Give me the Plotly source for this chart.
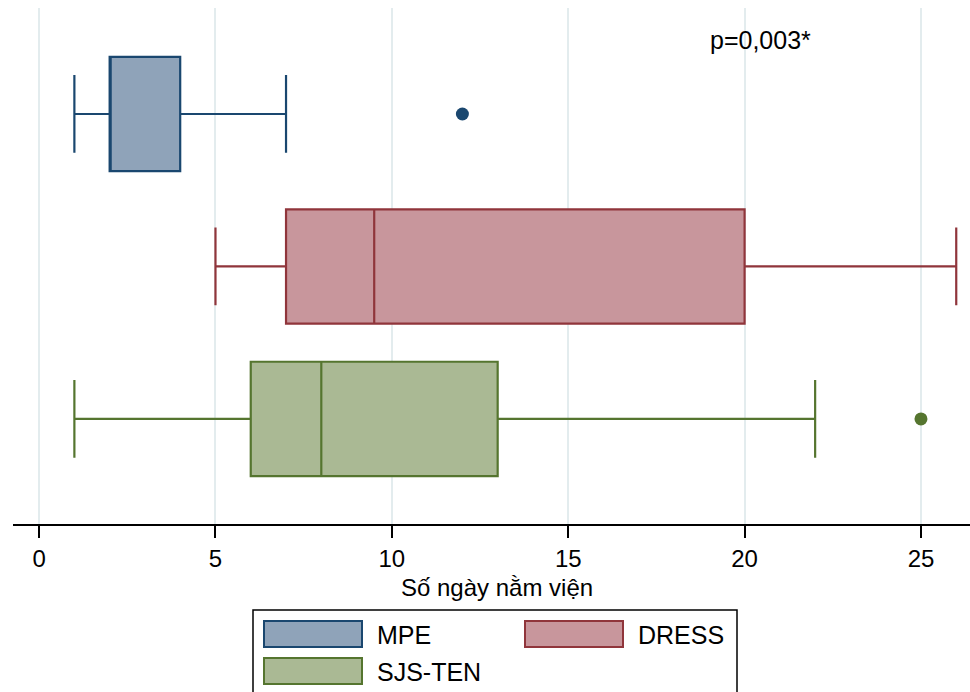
import plotly.graph_objects as go

# ---- data ----
groups = ["MPE", "DRESS", "SJS-TEN"]
positions = [3, 2, 1]
q1 = [2, 7, 6]
median = [2, 9.5, 8]
q3 = [4, 20, 13]
lower = [1, 5, 1]
upper = [7, 26, 22]
outlier_x = [12, 25]
outlier_group = [0, 2]
x_ticks = [0, 5, 10, 15, 20, 25]
p_text = "p=0,003*"
x_title = "Số ngày nằm viện"

line_colors = ["#1a476f", "#90353b", "#55752f"]
fill_colors = ["#8fa3b9", "#c8969c", "#aab994"]

W, H = 970, 692
L, R, T, B = 13, 970, 8, 524  # plot area in pixels
FS = 25
FS_AX = 24

fig = go.Figure()
for i, g in enumerate(groups):
    fig.add_trace(go.Box(
        name=g, orientation="h", y=[positions[i]],
        q1=[q1[i]], median=[median[i]], q3=[q3[i]],
        lowerfence=[lower[i]], upperfence=[upper[i]],
        width=0.75, whiskerwidth=0.68,
        fillcolor=fill_colors[i],
        line=dict(color=line_colors[i], width=2.2),
        boxpoints=False, showlegend=False, hoverinfo="x",
    ))

for xv, gi in zip(outlier_x, outlier_group):
    fig.add_trace(go.Scatter(
        x=[xv], y=[positions[gi]], mode="markers",
        marker=dict(color=line_colors[gi], size=13),
        showlegend=False,
    ))

fig.add_annotation(x=20.45, y=3.485, text=p_text, showarrow=False,
                   font=dict(size=FS, color="black"), xanchor="center", yanchor="middle")

# ---- custom legend / title (paper coords from pixel layout) ----
def px(x):
    return (x - L) / (R - L)

def py(y):
    return (B - y) / (B - T)

fig.add_annotation(xref="paper", yref="paper", x=px(497), y=py(587),
                   text=x_title, showarrow=False, xanchor="center", yanchor="middle",
                   font=dict(size=FS_AX, color="black"))

shapes = [dict(type="rect", xref="paper", yref="paper",
               x0=px(253), x1=px(737), y0=py(700), y1=py(610),
               line=dict(color="black", width=1.5), fillcolor="white", layer="above")]
legend_pos = [(264, 621), (525, 621), (264, 658)]
for i, g in enumerate(groups):
    x0, y0 = legend_pos[i]
    shapes.append(dict(type="rect", xref="paper", yref="paper",
                       x0=px(x0), x1=px(x0 + 98), y0=py(y0 + 26), y1=py(y0),
                       line=dict(color=line_colors[i], width=2),
                       fillcolor=fill_colors[i], layer="above"))
    fig.add_annotation(xref="paper", yref="paper", x=px(x0 + 111), y=py(y0 + 14),
                       text=g, showarrow=False, xanchor="left", yanchor="middle",
                       font=dict(size=FS, color="black"))

fig.update_layout(
    width=W, height=H,
    margin=dict(l=L, r=W - R, t=T, b=H - B),
    paper_bgcolor="white", plot_bgcolor="white",
    font=dict(family="Arial, Liberation Sans, sans-serif", size=FS, color="black"),
    shapes=shapes,
    showlegend=False,
    xaxis=dict(
        range=[-0.74, 26.39], tickvals=x_ticks, ticktext=[str(t) for t in x_ticks],
        showgrid=True, gridcolor="#e3ecee", gridwidth=2,
        showline=True, linecolor="black", linewidth=2,
        ticks="outside", ticklen=12, tickwidth=1.5, tickcolor="black",
        tickfont=dict(size=FS_AX),
        zeroline=False,
    ),
    yaxis=dict(range=[0.311, 3.695], showgrid=False, showticklabels=False,
               zeroline=False, showline=False, ticks=""),
)

fig.write_html("out.html", config={"displayModeBar": False},
               post_script="document.body.style.margin='0';document.body.style.padding='0';")
